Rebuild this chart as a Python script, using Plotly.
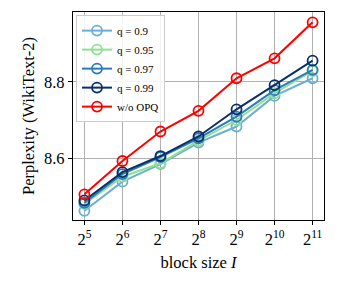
import math
import plotly.graph_objects as go

block_sizes = [32, 64, 128, 256, 512, 1024, 2048]
tick_labels = ["2<sup>5</sup>", "2<sup>6</sup>", "2<sup>7</sup>", "2<sup>8</sup>",
               "2<sup>9</sup>", "2<sup>10</sup>", "2<sup>11</sup>"]
y_ticks = [8.6, 8.8]
y_tick_labels = ["8.6", "8.8"]
q90 = [8.463, 8.539, 8.585, 8.641, 8.683, 8.763, 8.809]
q95 = [8.481, 8.552, 8.587, 8.646, 8.700, 8.770, 8.828]
q97 = [8.484, 8.559, 8.603, 8.652, 8.709, 8.778, 8.831]
q99 = [8.490, 8.564, 8.606, 8.657, 8.728, 8.791, 8.855]
wo_opq = [8.506, 8.593, 8.670, 8.724, 8.809, 8.861, 8.955]

series = [
    ("q = 0.9", q90, "#6baed6"),
    ("q = 0.95", q95, "#90e090"),
    ("q = 0.97", q97, "#2b7bba"),
    ("q = 0.99", q99, "#08306b"),
    ("w/o OPQ", wo_opq, "#ff0000"),
]

fig = go.Figure()
for name, ys, col in series:
    fig.add_trace(go.Scatter(
        x=block_sizes, y=ys, name=name, mode="lines+markers",
        line=dict(color=col, width=2),
        marker=dict(symbol="circle-open", size=10, color=col, line=dict(width=1.8, color=col)),
    ))

font = "Liberation Serif, Times New Roman, serif"
fs = 16.5
fig.update_layout(
    width=338, height=286,
    margin=dict(l=73, r=14, t=12, b=66),
    paper_bgcolor="white", plot_bgcolor="white",
    font=dict(family=font, size=fs, color="black"),
    showlegend=True,
    legend=dict(x=0.012, y=0.985, xanchor="left", yanchor="top",
                bgcolor="rgba(255,255,255,0.85)", bordercolor="#cccccc", borderwidth=1,
                font=dict(family=font, size=11), itemwidth=30, tracegroupgap=0,
                itemsizing="trace"),
)
fig.update_xaxes(
    type="log", automargin=False,
    range=[math.log10(2 ** 4.7), math.log10(2 ** 11.3)],
    tickvals=block_sizes, ticktext=tick_labels,
    showgrid=True, gridcolor="#b0b0b0", gridwidth=1,
    showline=True, linecolor="black", linewidth=1.2, mirror=True,
    ticks="outside", ticklen=4, tickcolor="black",
    title=dict(text="block size <i>I</i>", font=dict(size=fs), standoff=8),
    tickfont=dict(size=fs),
    zeroline=False,
)
fig.update_yaxes(
    automargin=False,
    range=[8.439, 8.982],
    tickvals=y_ticks, ticktext=y_tick_labels,
    showgrid=True, gridcolor="#b0b0b0", gridwidth=1,
    showline=True, linecolor="black", linewidth=1.2, mirror=True,
    ticks="outside", ticklen=4, tickcolor="black",
    title=dict(text="Perplexity (WikiText-2)", font=dict(size=fs), standoff=5),
    tickfont=dict(size=fs),
    zeroline=False,
)
fig.write_html("out.html", config={"displayModeBar": False},
               post_script="document.body.style.margin='0';")
